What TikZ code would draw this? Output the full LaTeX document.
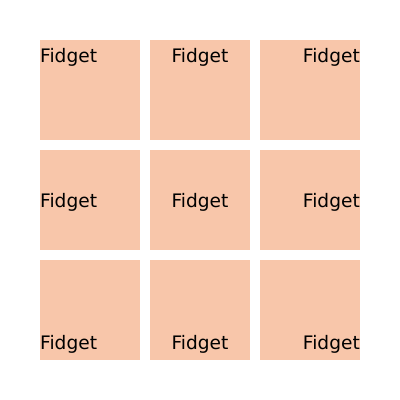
\documentclass[tikz,border=0pt]{standalone}
\usepackage{fontspec}
\setmainfont{DejaVu Sans}
\definecolor{peach}{HTML}{F8C6AA}
\begin{document}
\begin{tikzpicture}[x=1pt,y=-1pt,
  cell/.style={fill=peach,draw=none},
  lbl/.style={inner sep=0pt,font=\fontsize{18.6}{20}\selectfont}]
\useasboundingbox (0,0) rectangle (400,400);
\foreach \i/\x in {1/40,2/150,3/260}{
  \foreach \j/\y in {1/40,2/150,3/260}{
    \path[cell] (\x,\y) rectangle ++(100,100);
  }
}
% top row
\node[lbl,anchor=base west] (t1) at (40,62) {Fidget};
\node[lbl,anchor=base] (t2) at (200,62) {Fidget};
\node[lbl,anchor=base east] (t3) at (360,62) {Fidget};
% middle row
\node[lbl,anchor=base west] (m1) at (40,207) {Fidget};
\node[lbl,anchor=base] (m2) at (200,207) {Fidget};
\node[lbl,anchor=base east] (m3) at (360,207) {Fidget};
% bottom row
\node[lbl,anchor=base west] (b1) at (40,349) {Fidget};
\node[lbl,anchor=base] (b2) at (200,349) {Fidget};
\node[lbl,anchor=base east] (b3) at (360,349) {Fidget};
\end{tikzpicture}
\end{document}
